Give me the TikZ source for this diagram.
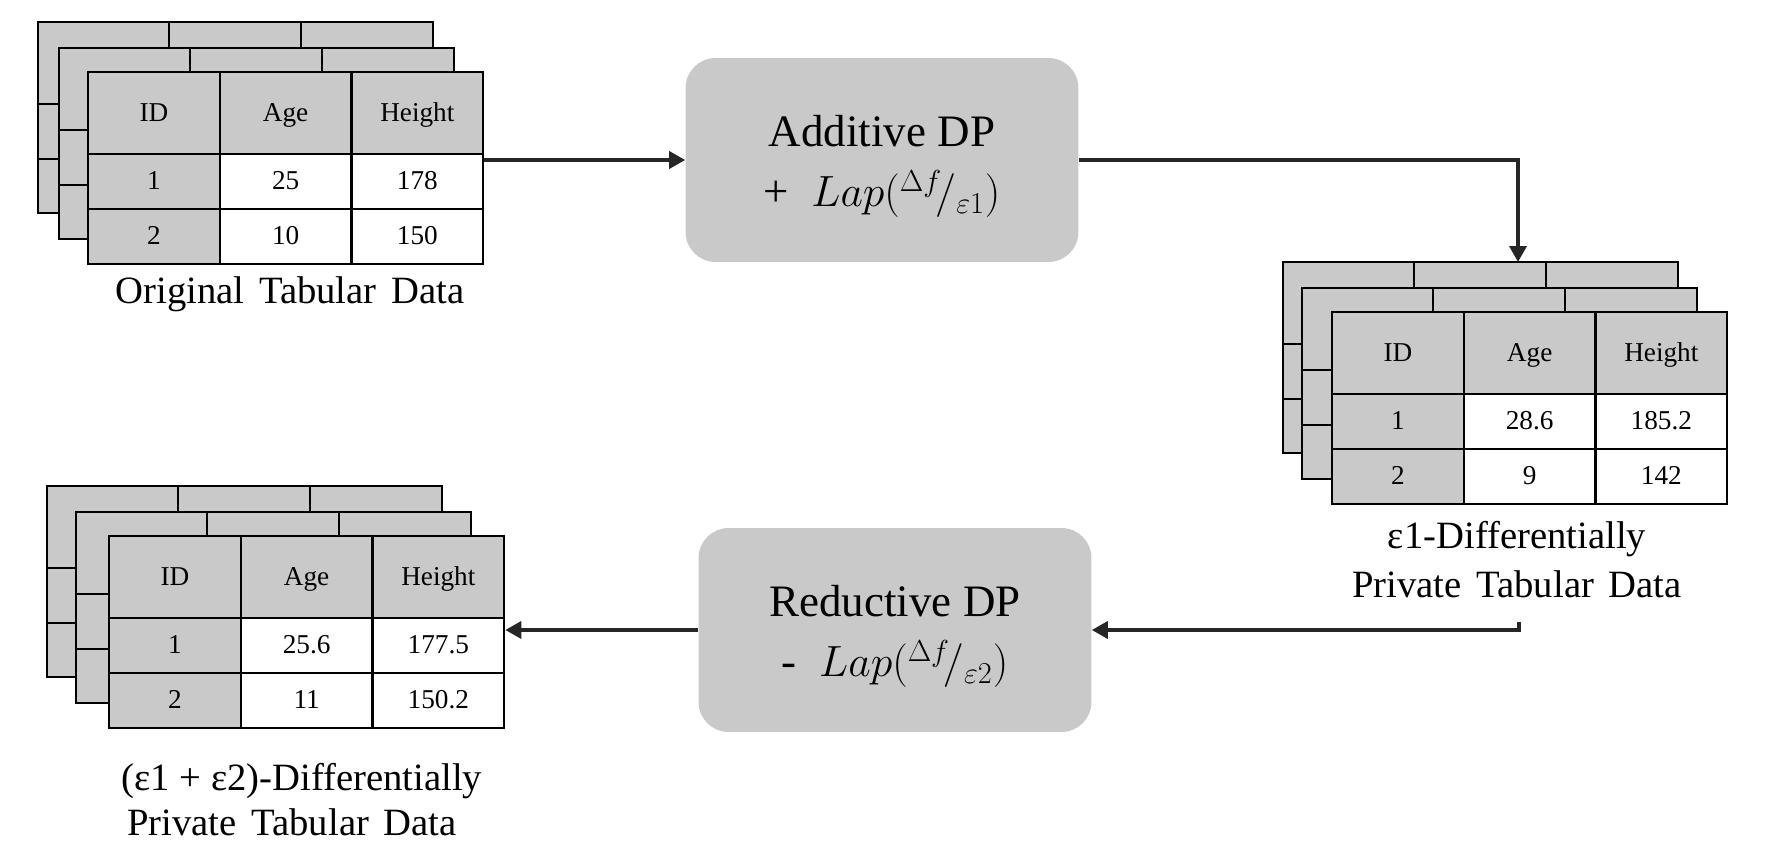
\documentclass[tikz,border=0pt]{standalone}
\usepackage[no-math]{fontspec}
\setmainfont{Liberation Serif}
\usetikzlibrary{matrix,arrows.meta}

\definecolor{cellgray}{RGB}{201,201,201}
\definecolor{arrowgray}{RGB}{38,38,38}

\newcommand{\celltext}{\fontsize{15.5}{18}\selectfont}
\newcommand{\captext}{\fontsize{22}{26}\selectfont\spaceskip=0.38em}
\newcommand{\boxtext}{\fontsize{25.6}{34.6}\selectfont}

\tikzset{
  cellline/.style = {draw = black, line width = 1.3pt},
  datatab/.style = {matrix of nodes, ampersand replacement = \&, anchor = north west,
    inner sep = 0pt, outer sep = 0pt, row sep = -1.3pt, column sep = -1.3pt,
    nodes = {cellline, fill = white, minimum width = 2.634cm, minimum height = 1.1cm,
      inner sep = 0pt, text height = 12.5pt, text depth = 3.5pt, font = \celltext, anchor = center},
    row 1/.style = {nodes = {fill = cellgray, minimum height = 1.64cm}},
    column 1/.style = {nodes = {fill = cellgray}}},
  dpbox/.style = {fill = cellgray, rounded corners = 0.6cm, minimum width = 7.86cm,
    minimum height = 4.08cm, align = center, font = \boxtext},
  caption/.style = {anchor = base, inner sep = 0pt, font = \captext},
  flow/.style = {draw = arrowgray, line width = 2pt, -{Triangle[length = 0.32cm, width = 0.34cm]}}
}

% one sheet behind the front table
\newcommand{\backsheet}[2]{%
  \draw [cellline, fill = cellgray] (#1, #2) rectangle ++(395, 191);
  \draw [cellline] (#1+131, #2) -- ++(0, 191)
                   (#1+263, #2) -- ++(0, 191)
                   (#1, #2+82) -- ++(395, 0)
                   (#1, #2+137) -- ++(395, 0);}

% stack of three tables, front one at (#2, #3), sheets shifted left by #8 and #9
\newcommand{\datastack}[9]{%
  \backsheet{#2-#8}{#3-49}
  \backsheet{#2-#9}{#3-23}
  \matrix [datatab] (#1) at (#2, #3) {
    ID \& Age \& Height \\
    1 \& #4 \& #5 \\
    2 \& #6 \& #7 \\
  };}

\begin{document}
\begin{tikzpicture}[x = 0.02cm, y = -0.02cm]
	\useasboundingbox (0, 0) rectangle (1786, 862);

	\datastack{t1}{87}{71}{25}{178}{10}{150}{49}{28}
	\datastack{t2}{1331}{311}{28.6}{185.2}{9}{142}{48}{29}
	\datastack{t3}{108}{535}{25.6}{177.5}{11}{150.2}{61}{32}

	\node [caption] (c1) at (290, 303) {Original Tabular Data};
	\node [caption] (c2a) at (1517, 548) {ε1-Differentially};
	\node [caption] (c2b) at (1517, 597) {Private Tabular Data};
	\node [caption] (c3a) at (302, 790) {\spaceskip=0pt (ε1 + ε2)-Differentially};
	\node [caption] (c3b) at (292, 835) {Private Tabular Data};

	\node [dpbox] (add) at (882, 160) {\rule{0pt}{25pt}Additive DP\\ +\enspace$Lap({}^{\Delta f}\!/_{\varepsilon 1})$};
	\node [dpbox] (red) at (895, 630) {\rule{0pt}{25pt}Reductive DP\\ -\enspace$Lap({}^{\Delta f}\!/_{\varepsilon 2})$};

	\coordinate (in2) at (1518, 262);
	\coordinate (out2) at (1519, 622);

	\draw [flow] (t1.east |- add.west) -- (add.west);
	\draw [flow] (add.east) -| (in2);
	\draw [flow] (out2) |- (red.east);
	\draw [flow] (red.west) -- (t3.east |- red.west);
\end{tikzpicture}
\end{document}
